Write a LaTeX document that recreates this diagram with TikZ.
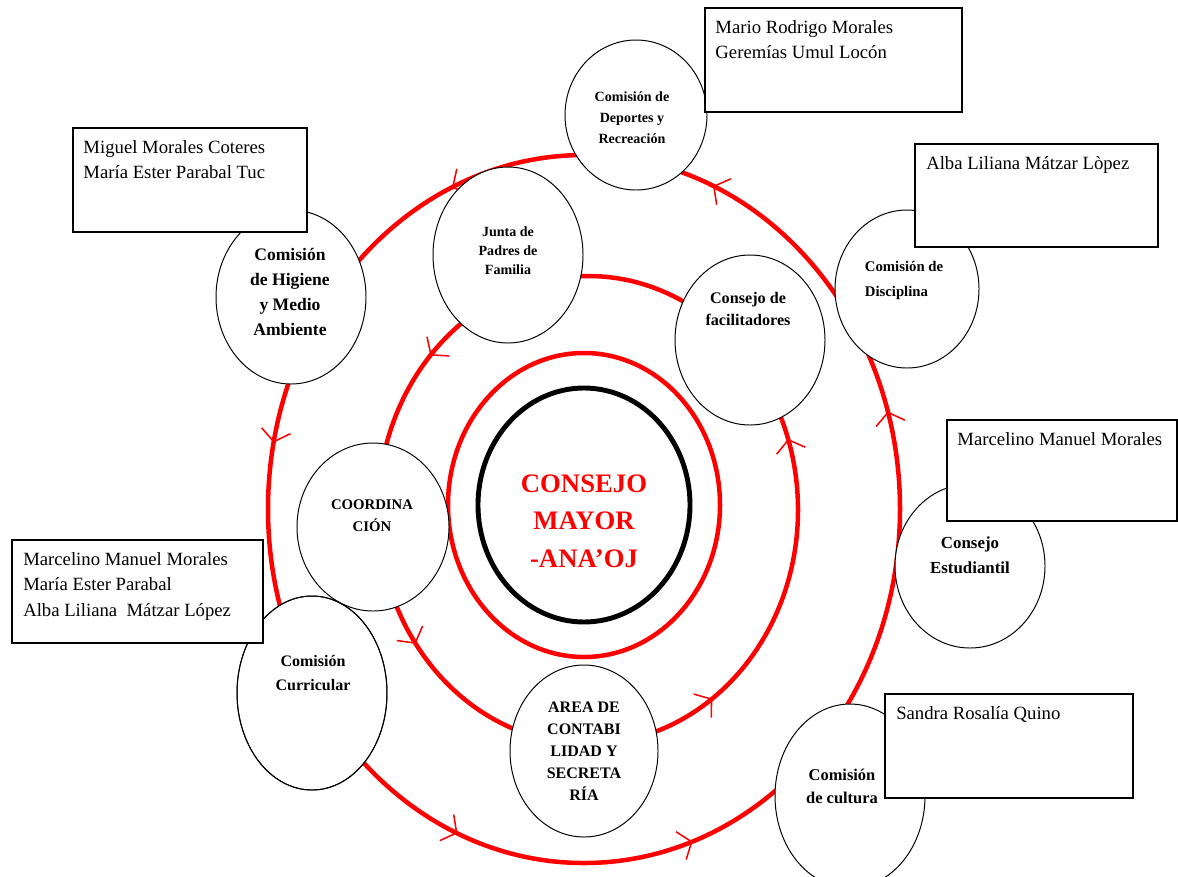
\documentclass[tikz,border=0pt]{standalone}
\usepackage{fontspec}
\setmainfont{Liberation Serif}
\usetikzlibrary{shapes.geometric,arrows.meta,positioning}

\begin{document}
\begin{tikzpicture}[scale=0.25]
\tikzstyle{every node}+=[inner sep=0pt]
\tikzstyle{ring}=[draw=red, line width=3.2pt]
\tikzstyle{ringarrow}=[red, line width=1.1pt, -{Straight Barb[length=8pt,width=21pt]}]
\tikzstyle{comm}=[ellipse, draw=black, line width=0.7pt, fill=white]
\tikzstyle{lbl}=[align=center]
\tikzstyle{namebox}=[rectangle, draw=black, line width=1.1pt, fill=white, anchor=north west]
\tikzstyle{names}=[font=\fontsize{13.3}{18}\selectfont, align=left]
\useasboundingbox (0,0) rectangle (117.8,-87.6);
% anillos
\draw [ring] (58.4,-50.9) ellipse (31.6 and 35.4);
\draw [ring] (58.8,-51.0) ellipse (21.0 and 23.4);
\draw [ring] (58.4,-50.5) ellipse (13.6 and 15.2);
\draw [black, line width=3.5pt] (58.4,-50.5) ellipse (10.6 and 11.7);
\foreach \t in {16,65.9,114.7,169.2,246.4,290.1}
  \draw [ringarrow] ({58.4+31.6*cos(\t-4)},{-50.9+35.4*sin(\t-4)}) -- ({58.4+31.6*cos(\t)},{-50.9+35.4*sin(\t)});
\foreach \t in {17.7,138.7,214.9,306.3}
  \draw [ringarrow] ({58.8+21.0*cos(\t-5)},{-51.0+23.4*sin(\t-5)}) -- ({58.8+21.0*cos(\t)},{-51.0+23.4*sin(\t)});
\node [red, font=\bfseries\fontsize{19}{26.7}\selectfont, align=center] (mayor) at (58.4,-52.1) {CONSEJO\\MAYOR\\-ANA’OJ};
% comisiones
\node [comm, minimum width=3.55cm, minimum height=3.75cm] (deportes) at (63.6,-11.5) {};
\node [comm, minimum width=3.75cm, minimum height=4.35cm] (higiene) at (29.1,-29.7) {};
\node [comm, minimum width=3.75cm, minimum height=4.4cm] (junta) at (50.8,-25.5) {};
\node [comm, minimum width=3.75cm, minimum height=4.25cm] (facil) at (75.0,-34.0) {};
\node [comm, minimum width=3.6cm, minimum height=3.95cm] (disciplina) at (90.7,-28.9) {};
\node [comm, minimum width=3.75cm, minimum height=4.1cm] (estud) at (97.0,-56.6) {};
\node [comm, minimum width=3.75cm, minimum height=4.85cm] (curricular) at (31.2,-69.3) {};
\node [comm, minimum width=3.8cm, minimum height=4.2cm] (coord) at (37.3,-52.7) {};
\draw [line width=0.7pt] (curricular.center) ellipse (7.5 and 9.7);
\node [comm, minimum width=3.7cm, minimum height=4.3cm] (area) at (58.4,-75.1) {};
\node [comm, minimum width=3.75cm, minimum height=4.6cm] (cultura) at (85.0,-79.6) {};
\node [lbl, font=\bfseries\fontsize{10}{15}\selectfont] (deportesT) at (63.2,-11.8) {Comisión de\\Deportes y\\Recreación};
\node [lbl, font=\bfseries\fontsize{12.5}{17.8}\selectfont] (higieneT) at (29.0,-29.2) {Comisión\\de Higiene\\y Medio\\Ambiente};
\node [lbl, font=\bfseries\fontsize{10}{13.5}\selectfont] (juntaT) at (50.8,-25.1) {Junta de\\Padres de\\Familia};
\node [lbl, font=\bfseries\fontsize{11.5}{16.3}\selectfont] (facilT) at (74.8,-30.9) {Consejo de\\facilitadores};
\node [align=left, font=\bfseries\fontsize{10.5}{17.8}\selectfont] (disciplinaT) at (90.4,-28.0) {Comisión de\\Disciplina};
\node [lbl, font=\bfseries\fontsize{12}{17.8}\selectfont] (estudT) at (97.0,-55.5) {Consejo\\Estudiantil};
\node [lbl, font=\bfseries\fontsize{10.5}{15.6}\selectfont] (coordT) at (37.2,-51.6) {COORDINA\\CIÓN};
\node [lbl, font=\bfseries\fontsize{11.4}{16.4}\selectfont] (curricularT) at (31.3,-67.3) {Comisión\\Curricular};
\node [lbl, font=\bfseries\fontsize{11.4}{15.6}\selectfont] (areaT) at (58.4,-75.1) {AREA DE\\CONTABI\\LIDAD Y\\SECRETA\\RÍA};
\node [lbl, font=\bfseries\fontsize{11.7}{16.4}\selectfont] (culturaT) at (84.2,-78.6) {Comisión\\de cultura};
% integrantes
\node [namebox, minimum width=6.425cm, minimum height=2.6cm] (deportesBox) at (70.4,-0.7) {};
\node [names, below right=0.33cm and 0.28cm of deportesBox.north west] (deportesNames) {Mario Rodrigo Morales\\Geremías Umul Locón};
\node [namebox, minimum width=5.85cm, minimum height=2.6cm] (higieneBox) at (7.2,-12.7) {};
\node [names, below right=0.33cm and 0.28cm of higieneBox.north west] (higieneNames) {Miguel Morales Coteres\\María Ester Parabal Tuc};
\node [namebox, minimum width=6.075cm, minimum height=2.575cm] (disciplinaBox) at (91.4,-14.3) {};
\node [names, below right=0.33cm and 0.3cm of disciplinaBox.north west] (disciplinaNames) {Alba Liliana Mátzar Lòpez};
\node [namebox, minimum width=5.75cm, minimum height=2.525cm] (estudBox) at (94.6,-41.9) {};
\node [names, below right=0.33cm and 0.28cm of estudBox.north west] (estudNames) {Marcelino Manuel Morales};
\node [namebox, minimum width=6.275cm, minimum height=2.575cm] (curricularBox) at (1.1,-53.9) {};
\node [names, below right=0.33cm and 0.3cm of curricularBox.north west] (curricularNames) {Marcelino Manuel Morales\\María Ester Parabal\\Alba Liliana \ Mátzar López};
\node [namebox, minimum width=6.2cm, minimum height=2.6cm] (culturaBox) at (88.4,-69.3) {};
\node [names, below right=0.33cm and 0.3cm of culturaBox.north west] (culturaNames) {Sandra Rosalía Quino};
\end{tikzpicture}
\end{document}
